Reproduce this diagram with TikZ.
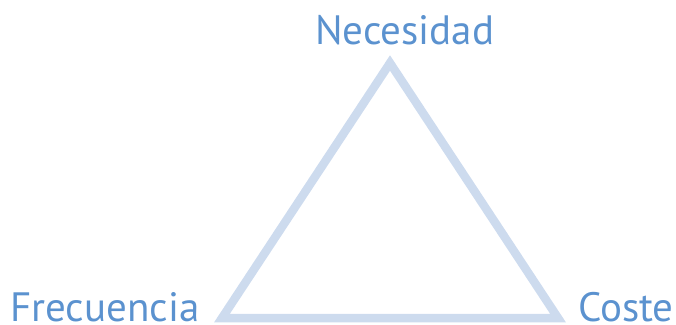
\documentclass[tikz,border=0pt]{standalone}
\usepackage{fontspec}
\setmainfont{PT Sans}
\definecolor{txtblue}{HTML}{5B92CF}
\definecolor{linblue}{HTML}{CDDBEE}
\begin{document}
\begin{tikzpicture}[x=1pt,y=-1pt,
  lbl/.style={inner sep=0pt,text=txtblue,font=\fontsize{41}{48}\selectfont},
  edge/.style={draw=linblue,line width=8.5pt,line join=miter}]
\useasboundingbox (0,0) rectangle (676,324);
\coordinate (top) at (390,63);
\coordinate (bl) at (222,318);
\coordinate (br) at (558,318);
\draw[edge] (top) -- (bl) -- (br) -- cycle;
\node[lbl,anchor=base west] (nec) at (315,44) {Necesidad};
\node[lbl,anchor=base west] (fre) at (10,321) {Frecuencia};
\node[lbl,anchor=base west] (cos) at (578,321) {Coste};
\end{tikzpicture}
\end{document}
